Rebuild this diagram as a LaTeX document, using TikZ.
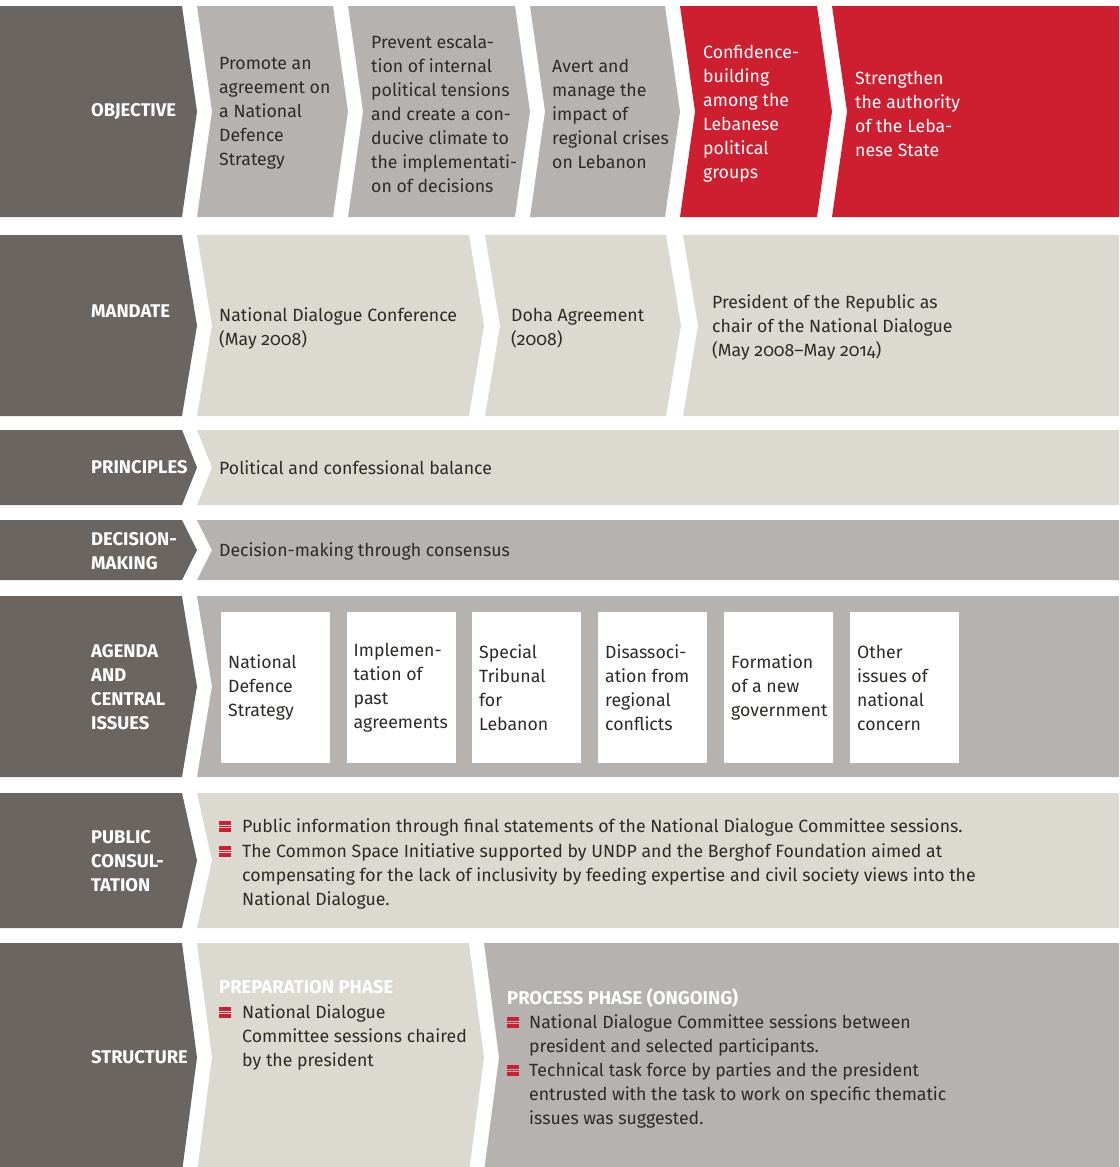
\documentclass[tikz,border=0pt]{standalone}
\usepackage{fontspec}
\setmainfont{Fira Sans}[Numbers=OldStyle]
\definecolor{darkc}{HTML}{6B6561}
\definecolor{grayc}{HTML}{B6B2AF}
\definecolor{beigec}{HTML}{DCD9D1}
\definecolor{redc}{HTML}{CD1F30}
\definecolor{textc}{HTML}{2E2A28}
\newcommand\bodyfont{\fontsize{17.7}{24}\selectfont}
\newcommand\bul[2]{\foreach \k in {0,...,4} {\fill[redc] (#1,#2-11+\k*2.35) rectangle ++(12,1.5);}}
\begin{document}
\begin{tikzpicture}[x=1pt,y=-1pt,
  txt/.style={text=textc, font=\bodyfont, align=left, inner sep=0pt},
  ptxt/.style={txt, align=flush left, anchor=base west},
  wtxt/.style={txt, text=white},
  lab/.style={text=white, font=\bfseries\fontsize{18.4}{24}\selectfont, align=left, inner sep=0pt, anchor=west},
  head/.style={text=white, font=\bfseries\fontsize{18.5}{24}\selectfont, inner sep=0pt, anchor=base west},
  wbox/.style={fill=white, anchor=north west, minimum width=109pt, minimum height=151pt, inner xsep=7pt, inner ysep=0pt, text width=95pt, align=flush left, text=textc, font=\bodyfont}]
\useasboundingbox (0,0) rectangle (1119,1167);
\begin{scope}
\clip (0,0) rectangle (1119,1167);
% ---------- row 1 : objective
\def\ya{6}\def\yb{217}\def\ym{111.5}
\fill[darkc] (0,\ya)--(182,\ya)--(197,\ym)--(182,\yb)--(0,\yb)--cycle;
\fill[grayc] (197,\ya)--(333,\ya)--(348,\ym)--(333,\yb)--(197,\yb)--(212,\ym)--cycle;
\fill[grayc] (348,\ya)--(515,\ya)--(530,\ym)--(515,\yb)--(348,\yb)--(363,\ym)--cycle;
\fill[grayc] (530,\ya)--(665,\ya)--(680,\ym)--(665,\yb)--(530,\yb)--(545,\ym)--cycle;
\fill[redc] (680,\ya)--(817,\ya)--(832,\ym)--(817,\yb)--(680,\yb)--(695,\ym)--cycle;
\fill[redc] (832,\ya)--(1119,\ya)--(1119,\yb)--(832,\yb)--(847,\ym)--cycle;
% ---------- row 2 : mandate
\def\ya{235}\def\yb{416}\def\ym{325.5}
\fill[darkc] (0,\ya)--(182,\ya)--(197,\ym)--(182,\yb)--(0,\yb)--cycle;
\fill[beigec] (197,\ya)--(469,\ya)--(484,\ym)--(469,\yb)--(197,\yb)--(212,\ym)--cycle;
\fill[beigec] (485,\ya)--(666,\ya)--(681,\ym)--(666,\yb)--(485,\yb)--(500,\ym)--cycle;
\fill[beigec] (683,\ya)--(1119,\ya)--(1119,\yb)--(683,\yb)--(698,\ym)--cycle;
% ---------- row 3 : principles
\def\ya{430}\def\yb{505}\def\ym{467.5}
\fill[darkc] (0,\ya)--(182,\ya)--(197,\ym)--(182,\yb)--(0,\yb)--cycle;
\fill[beigec] (197,\ya)--(1119,\ya)--(1119,\yb)--(197,\yb)--(212,\ym)--cycle;
% ---------- row 4 : decision-making
\def\ya{520}\def\yb{580}\def\ym{550}
\fill[darkc] (0,\ya)--(182,\ya)--(197,\ym)--(182,\yb)--(0,\yb)--cycle;
\fill[grayc] (197,\ya)--(1119,\ya)--(1119,\yb)--(197,\yb)--(212,\ym)--cycle;
% ---------- row 5 : agenda
\def\ya{596}\def\yb{777}\def\ym{686.5}
\fill[darkc] (0,\ya)--(182,\ya)--(197,\ym)--(182,\yb)--(0,\yb)--cycle;
\fill[grayc] (197,\ya)--(1119,\ya)--(1119,\yb)--(197,\yb)--(212,\ym)--cycle;
% ---------- row 6 : public consultation
\def\ya{793}\def\yb{928}\def\ym{860.5}
\fill[darkc] (0,\ya)--(182,\ya)--(197,\ym)--(182,\yb)--(0,\yb)--cycle;
\fill[beigec] (197,\ya)--(1119,\ya)--(1119,\yb)--(197,\yb)--(212,\ym)--cycle;
% ---------- row 7 : structure
\def\ya{943}\def\yb{1172}\def\ym{1057.5}
\fill[darkc] (0,\ya)--(182,\ya)--(197,\ym)--(182,\yb)--(0,\yb)--cycle;
\fill[beigec] (197,\ya)--(469,\ya)--(484,\ym)--(469,\yb)--(197,\yb)--(212,\ym)--cycle;
\fill[grayc] (484,\ya)--(1119,\ya)--(1119,\yb)--(484,\yb)--(499,\ym)--cycle;
\end{scope}

% ---------- labels
\node[lab] (l1) at (91,112) {OBJECTIVE};
\node[lab] (l2) at (91,311) {MANDATE};
\node[lab] (l3) at (91,467.5) {PRINCIPLES};
\node[lab] (l4) at (91,551) {DECISION-\\MAKING};
\node[lab] (l5) at (91,687) {AGENDA\\AND\\CENTRAL\\ISSUES};
\node[lab] (l6) at (91,861) {PUBLIC\\CONSUL-\\TATION};
\node[lab] (l7) at (91,1057) {STRUCTURE};

% ---------- objective
\node[txt,anchor=west] (o1) at (219,113.5) {Promote an\\agreement on\\a National\\Defence\\Strategy};
\node[txt,anchor=west] (o2) at (371,113.5) {Prevent escala-\\tion of internal\\political tensions\\and create a con-\\ducive climate to\\the implementati-\\on of decisions};
\node[txt,anchor=west] (o3) at (552,113.5) {Avert and\\manage the\\impact of\\regional crises\\on Lebanon};
\node[wtxt,anchor=west] (o4) at (703,113.5) {Confidence-\\building\\among the\\Lebanese\\political\\groups};
\node[wtxt,anchor=west] (o5) at (855,113.5) {Strengthen\\the authority\\of the Leba-\\nese State};

% ---------- mandate
\node[txt,anchor=west] (m1) at (219,328) {National Dialogue Conference\\(May 2008)};
\node[txt,anchor=west] (m2) at (511,328) {Doha Agreement\\(2008)};
\node[txt,anchor=west] (m3) at (712,327) {President of the Republic as\\chair of the National Dialogue\\(May 2008–May 2014)};

% ---------- principles / decision
\node[txt,anchor=west] (p1) at (219,468) {Political and confessional balance};
\node[txt,anchor=west] (d1) at (219,551) {Decision-making through consensus};

% ---------- agenda
\node[wbox] (a1) at (221,612) {National\\Defence\\Strategy};
\node[wbox] (a2) at (346.5,612) {Implemen-\\tation of\\past\\agreements};
\node[wbox] (a3) at (472,612) {Special\\Tribunal\\for\\Lebanon};
\node[wbox] (a4) at (598,612) {Disassoci-\\ation from\\regional\\conflicts};
\node[wbox] (a5) at (724,612) {Formation\\of a new\\government};
\node[wbox] (a6) at (850,612) {Other\\issues of\\national\\concern};

% ---------- public consultation
\bul{219}{832}
\node[ptxt,text width=850pt] (pc1) at (242,832) {Public information through final statements of the National Dialogue Committee sessions.};
\bul{219}{857}
\node[ptxt,text width=850pt] (pc2) at (242,857) {The Common Space Initiative supported by UNDP and the Berghof Foundation aimed at\\compensating for the lack of inclusivity by feeding expertise and civil society views into the\\National Dialogue.};

% ---------- structure
\node[head] (sh1) at (219,993) {PREPARATION PHASE};
\bul{219}{1018}
\node[ptxt,text width=300pt] (sp1) at (242,1018) {National Dialogue\\Committee sessions chaired\\by the president};
\node[head] (sh2) at (507,1004) {PROCESS PHASE (ONGOING)};
\bul{507}{1028}
\node[ptxt,text width=560pt] (sq1) at (529,1028) {National Dialogue Committee sessions between\\president and selected participants.};
\bul{507}{1076}
\node[ptxt,text width=560pt] (sq2) at (529,1076) {Technical task force by parties and the president\\entrusted with the task to work on specific thematic\\issues was suggested.};
\end{tikzpicture}
\end{document}
